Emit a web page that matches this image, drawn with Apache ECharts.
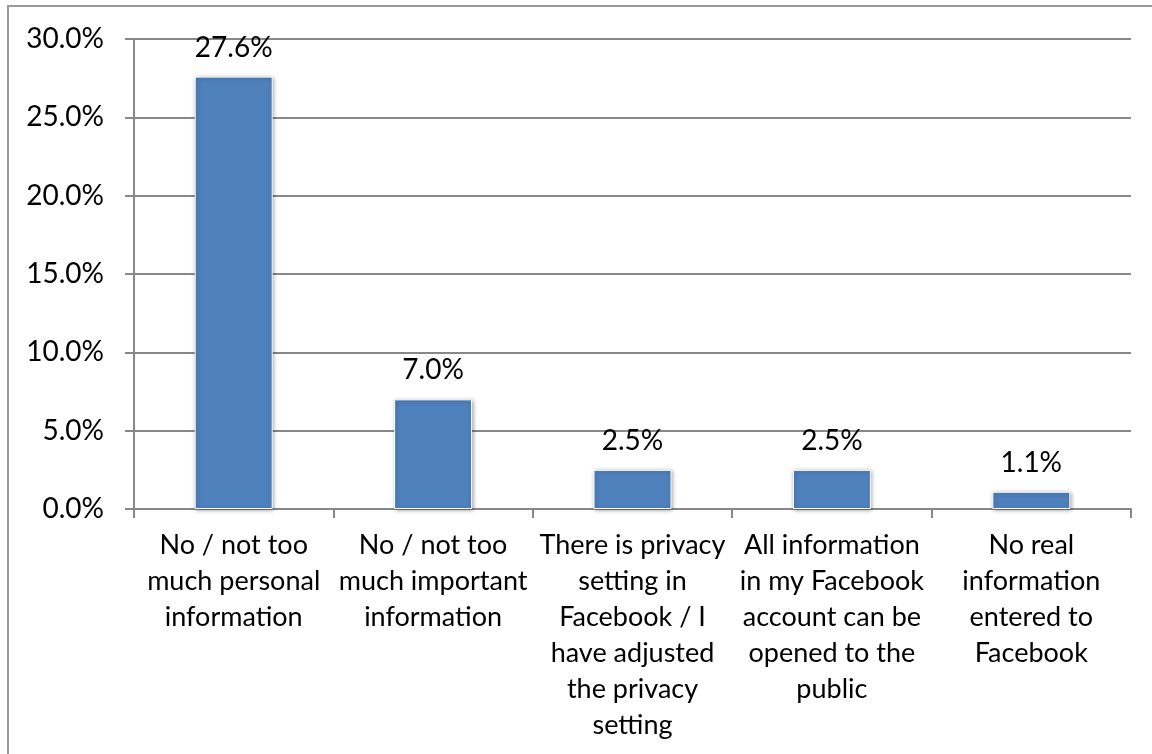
<!DOCTYPE html>
<html>
<head>
<meta charset="utf-8">
<script src="https://cdn.jsdelivr.net/npm/echarts@6/dist/echarts.min.js"></script>
<style>
  html, body { margin: 0; padding: 0; background: #fff; }
  #frame { position: absolute; left: 7px; top: 5px; width: 1200px; height: 800px;
           border-left: 2px solid #9a9a9a; border-top: 2px solid #9a9a9a; box-sizing: border-box; }
  #chart { position: absolute; left: 0; top: 0; width: 1152px; height: 754px; }
</style>
</head>
<body>
<div id="frame"></div>
<div id="chart"></div>
<script>
// Reasons given for not worrying about Facebook privacy (share of respondents)
const categories = [
  "No / not too\nmuch personal\ninformation",
  "No / not too\nmuch important\ninformation",
  "There is privacy\nsetting in\nFacebook / I\nhave adjusted\nthe privacy\nsetting",
  "All information\nin my Facebook\naccount can be\nopened to the\npublic",
  "No real\ninformation\nentered to\nFacebook"
];
const shares = [27.6, 7.0, 2.5, 2.5, 1.1];
const yTicks = { min: 0, max: 30, interval: 5 };

const FONT = "Lato, 'Open Sans', sans-serif";
const chart = echarts.init(document.getElementById('chart'), null, { renderer: 'canvas' });
chart.setOption({
  animation: false,
  grid: { left: 134, right: 21, top: 39, bottom: 245, containLabel: false },
  xAxis: {
    type: 'category',
    data: categories,
    axisLine: { lineStyle: { color: '#888', width: 2 } },
    axisTick: { show: true, length: 9, alignWithLabel: false, lineStyle: { color: '#888', width: 2 } },
    axisLabel: { color: '#000', fontFamily: FONT, fontSize: 27, lineHeight: 36, margin: 18, interval: 0 }
  },
  yAxis: {
    type: 'value',
    min: yTicks.min, max: yTicks.max, interval: yTicks.interval,
    axisLine: { show: true, lineStyle: { color: '#888', width: 2 } },
    axisTick: { show: true, length: 9, lineStyle: { color: '#888', width: 2 } },
    splitLine: { lineStyle: { color: '#888', width: 2 } },
    axisLabel: {
      color: '#000', fontFamily: FONT, fontSize: 28, margin: 30,
      formatter: v => v.toFixed(1) + '%'
    }
  },
  series: [{
    type: 'bar',
    data: shares,
    barWidth: 78,
    itemStyle: {
      color: '#4F81BD',
      borderColor: '#ffffff', borderWidth: 1,
      shadowColor: 'rgba(0,0,0,0.35)', shadowBlur: 4, shadowOffsetX: 1, shadowOffsetY: 1
    },
    label: {
      show: true, position: 'top', distance: 15,
      color: '#000', fontFamily: FONT, fontSize: 28,
      formatter: p => p.value.toFixed(1) + '%'
    }
  }]
});
</script>
</body>
</html>
